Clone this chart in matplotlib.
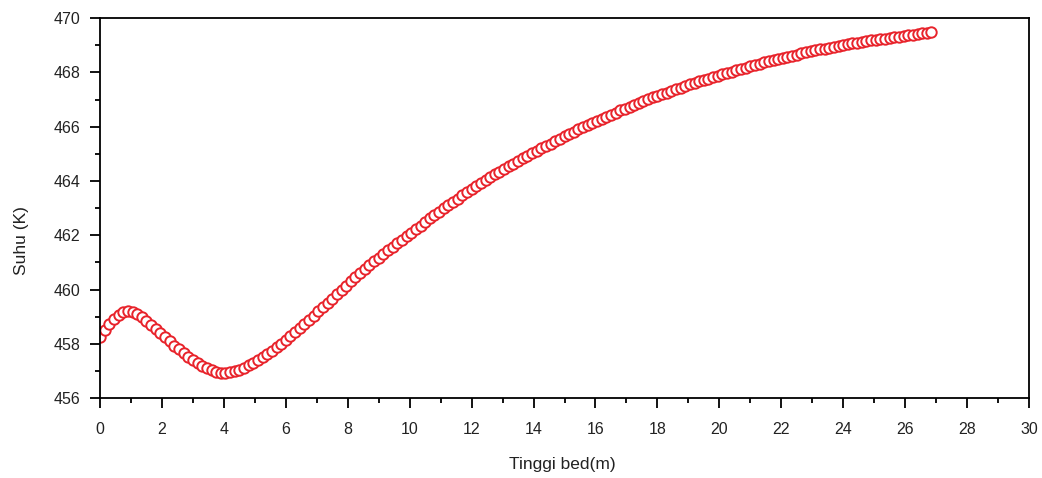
import matplotlib
matplotlib.use('Agg')
import matplotlib.pyplot as plt
from matplotlib.ticker import MultipleLocator

# Tinggi bed (m) dan suhu (K)
tinggi_bed = [
    0.00, 0.15, 0.30, 0.45, 0.60, 0.75, 0.90, 1.05, 1.20, 1.35,
    1.50, 1.65, 1.80, 1.95, 2.10, 2.25, 2.40, 2.55, 2.70, 2.85,
    3.00, 3.15, 3.30, 3.45, 3.60, 3.75, 3.90, 4.05, 4.20, 4.35,
    4.50, 4.65, 4.80, 4.95, 5.10, 5.25, 5.40, 5.55, 5.70, 5.85,
    6.00, 6.15, 6.30, 6.45, 6.60, 6.75, 6.90, 7.05, 7.20, 7.35,
    7.50, 7.65, 7.80, 7.95, 8.10, 8.25, 8.40, 8.55, 8.70, 8.85,
    9.00, 9.15, 9.30, 9.45, 9.60, 9.75, 9.90, 10.05, 10.20, 10.35,
    10.50, 10.65, 10.80, 10.95, 11.10, 11.25, 11.40, 11.55, 11.70, 11.85,
    12.00, 12.15, 12.30, 12.45, 12.60, 12.75, 12.90, 13.05, 13.20, 13.35,
    13.50, 13.65, 13.80, 13.95, 14.10, 14.25, 14.40, 14.55, 14.70, 14.85,
    15.00, 15.15, 15.30, 15.45, 15.60, 15.75, 15.90, 16.05, 16.20, 16.35,
    16.50, 16.65, 16.80, 16.95, 17.10, 17.25, 17.40, 17.55, 17.70, 17.85,
    18.00, 18.15, 18.30, 18.45, 18.60, 18.75, 18.90, 19.05, 19.20, 19.35,
    19.50, 19.65, 19.80, 19.95, 20.10, 20.25, 20.40, 20.55, 20.70, 20.85,
    21.00, 21.15, 21.30, 21.45, 21.60, 21.75, 21.90, 22.05, 22.20, 22.35,
    22.50, 22.65, 22.80, 22.95, 23.10, 23.25, 23.40, 23.55, 23.70, 23.85,
    24.00, 24.15, 24.30, 24.45, 24.60, 24.75, 24.90, 25.05, 25.20, 25.35,
    25.50, 25.65, 25.80, 25.95, 26.10, 26.25, 26.40, 26.55, 26.70, 26.85,
]
suhu = [
    458.25, 458.52, 458.75, 458.93, 459.07, 459.16, 459.20, 459.18, 459.11, 459.00,
    458.86, 458.71, 458.55, 458.39, 458.24, 458.09, 457.94, 457.80, 457.66, 457.53,
    457.41, 457.30, 457.20, 457.11, 457.03, 456.97, 456.94, 456.93, 456.95, 456.99,
    457.05, 457.12, 457.21, 457.31, 457.41, 457.52, 457.63, 457.75, 457.88, 458.01,
    458.15, 458.29, 458.44, 458.59, 458.74, 458.89, 459.04, 459.20, 459.36, 459.51,
    459.67, 459.83, 459.99, 460.14, 460.30, 460.45, 460.60, 460.75, 460.90, 461.04,
    461.18, 461.32, 461.45, 461.58, 461.71, 461.84, 461.97, 462.10, 462.23, 462.36,
    462.49, 462.62, 462.74, 462.87, 462.99, 463.11, 463.23, 463.35, 463.47, 463.59,
    463.71, 463.82, 463.93, 464.04, 464.14, 464.25, 464.35, 464.45, 464.55, 464.64,
    464.74, 464.83, 464.92, 465.02, 465.11, 465.20, 465.29, 465.38, 465.47, 465.56,
    465.65, 465.73, 465.81, 465.90, 465.98, 466.06, 466.14, 466.22, 466.30, 466.37,
    466.45, 466.52, 466.60, 466.67, 466.74, 466.81, 466.88, 466.94, 467.01, 467.08,
    467.14, 467.20, 467.26, 467.32, 467.38, 467.44, 467.50, 467.56, 467.61, 467.67,
    467.72, 467.77, 467.83, 467.88, 467.93, 467.98, 468.03, 468.08, 468.13, 468.18,
    468.23, 468.28, 468.32, 468.37, 468.41, 468.46, 468.50, 468.54, 468.58, 468.62,
    468.66, 468.70, 468.74, 468.78, 468.81, 468.85, 468.88, 468.91, 468.94, 468.98,
    469.01, 469.04, 469.07, 469.10, 469.12, 469.15, 469.18, 469.20, 469.23, 469.25,
    469.28, 469.30, 469.32, 469.35, 469.37, 469.39, 469.41, 469.44, 469.47, 469.50,
]

plt.rcParams['font.family'] = ['Liberation Sans', 'DejaVu Sans']

fig = plt.figure(figsize=(10.42, 4.78), dpi=100)
ax = fig.add_axes([0.096, 0.167, 0.8915, 0.795])

ax.plot(tinggi_bed, suhu, linestyle='none', marker='o', markersize=7.5,
        markerfacecolor='white', markeredgecolor='#e8232b', markeredgewidth=1.4)

ax.set_xlim(0, 30)
ax.set_ylim(456, 470)
ax.xaxis.set_major_locator(MultipleLocator(2))
ax.xaxis.set_minor_locator(MultipleLocator(1))
ax.yaxis.set_major_locator(MultipleLocator(2))
ax.yaxis.set_minor_locator(MultipleLocator(1))

ax.tick_params(which='both', direction='out', top=False, right=False,
               width=1.3, colors='black')
ax.tick_params(which='major', length=7.5, labelsize=11.5, labelcolor='#222222')
ax.tick_params(which='minor', length=3.75)
ax.tick_params(axis='x', which='major', pad=9.5)
ax.tick_params(axis='y', which='major', pad=6.5)
for s in ax.spines.values():
    s.set_linewidth(1.3)

ax.set_xlabel('Tinggi bed(m)', fontsize=12.5, color='#222222')
ax.set_ylabel('Suhu (K)', fontsize=12.5, color='#222222')
ax.xaxis.set_label_coords(0.498, -0.155)
ax.yaxis.set_label_coords(-0.077, 0.416)

fig.savefig('out.png', dpi=100)
